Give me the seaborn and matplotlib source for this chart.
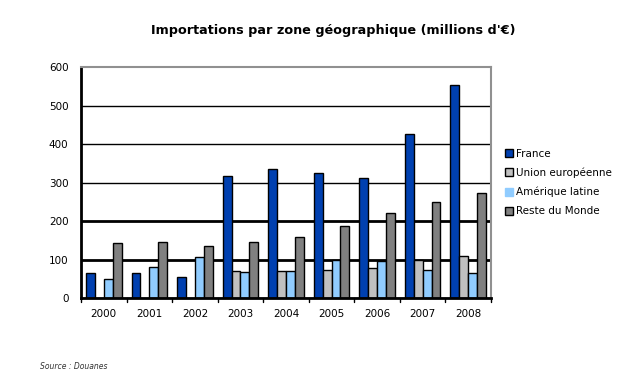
import numpy as np
import pandas as pd
import matplotlib
matplotlib.use("Agg")
import matplotlib.pyplot as plt
import seaborn as sns

years = ["2000", "2001", "2002", "2003", "2004", "2005", "2006", "2007", "2008"]
zones = ["France", "Union européenne", "Amérique latine", "Reste du Monde"]
france = [65, 65, 54, 317, 334, 326, 313, 427, 553]
union_eu = [np.nan, np.nan, np.nan, 71, 70, 73, 78, 99, 109]
amerique_latine = [50, 80, 106, 67, 70, 99, 97, 73, 65]
reste_monde = [142, 145, 136, 145, 158, 188, 220, 249, 272]
colors = ["#0040B0", "#C0C0C0", "#90CCFF", "#808080"]

df = pd.DataFrame({
    "annee": years * 4,
    "zone": np.repeat(zones, len(years)),
    "valeur": france + union_eu + amerique_latine + reste_monde,
})

sns.set_style("white")
plt.rcParams["font.family"] = ["DejaVu Sans"]
plt.rcParams["text.color"] = "black"

fig = plt.figure(figsize=(6.26, 3.81), dpi=100)
ax = fig.add_axes([0.1294, 0.2178, 0.655, 0.6063])

sns.barplot(data=df, x="annee", y="valeur", hue="zone", hue_order=zones,
            palette=colors, edgecolor="black", linewidth=1, width=0.78,
            saturation=1, ax=ax)

ax.set_ylim(0, 600)
ax.set_yticks(range(0, 601, 100))
ax.set_xlim(-0.5, len(years) - 0.5)
ax.set_xlabel("")
ax.set_ylabel("")
ax.tick_params(axis="both", labelsize=7.5, colors="black", length=0)
ax.tick_params(axis="y", pad=9)
ax.tick_params(axis="x", pad=8)

# gridlines
ax.set_axisbelow(True)
ax.yaxis.grid(True, color="black", linewidth=1)
for i, gl in enumerate(ax.get_ygridlines()):
    if i in (1, 2):
        gl.set_linewidth(2)
    if i == 6:
        gl.set_visible(False)

# category separators below the axis
for k in range(len(years) + 1):
    ax.plot([k - 0.5, k - 0.5], [0, -10], color="black", lw=1, clip_on=False)

for side in ["top", "right"]:
    ax.spines[side].set_color("#909090")
    ax.spines[side].set_linewidth(1.5)
ax.spines["left"].set_color("black")
ax.spines["left"].set_linewidth(2)
ax.spines["bottom"].set_color("black")
ax.spines["bottom"].set_linewidth(2)

leg = ax.legend(loc="center left", bbox_to_anchor=(1.01, 0.5), frameon=False,
                fontsize=7.5, handlelength=0.8, handleheight=0.8,
                handletextpad=0.3, labelspacing=0.85)
# light blue swatch has no outline in the original
leg.get_patches()[2].set_edgecolor(colors[2])

fig.text(0.532, 0.92, "Importations par zone géographique (millions d'€)",
         ha="center", va="center", fontsize=9.2, fontweight="bold")
fig.text(0.064, 0.037, "Source : Douanes", ha="left", va="center",
         fontsize=5.5, style="italic", color="#333333")

fig.savefig("out.png", dpi=100)
